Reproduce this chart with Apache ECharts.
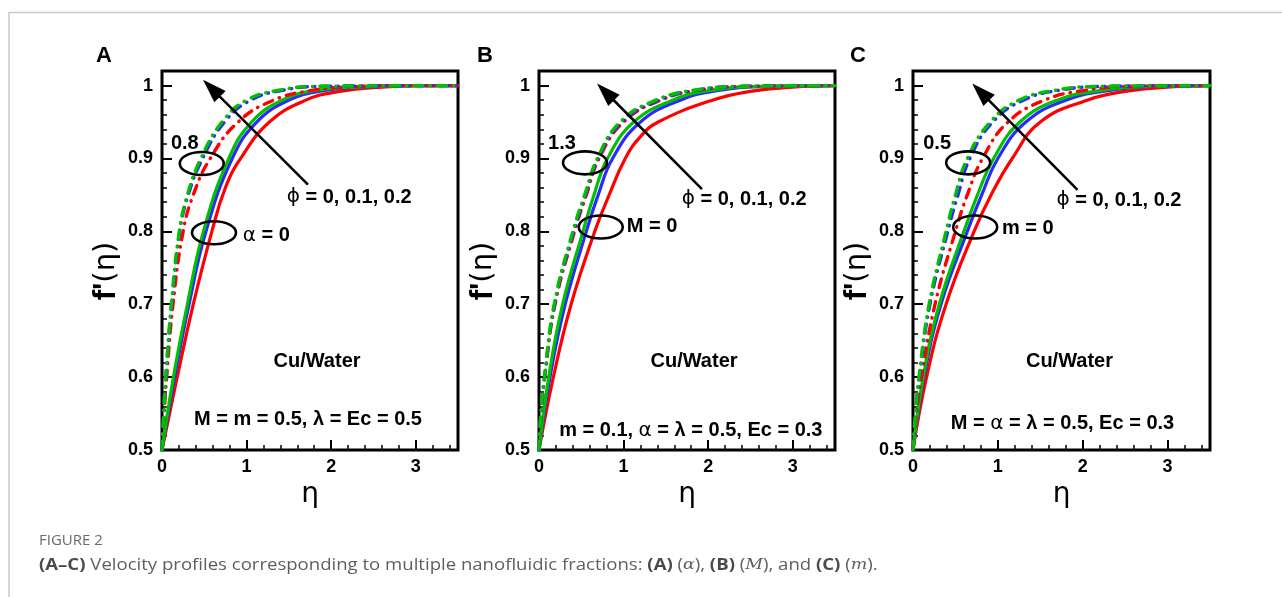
<!DOCTYPE html>
<html>
<head>
<meta charset="utf-8">
<script src="https://cdn.jsdelivr.net/npm/echarts@6/dist/echarts.min.js"></script>
<style>
  html, body { margin: 0; padding: 0; background: #fff; }
  #chart { width: 1282px; height: 597px; }
</style>
</head>
<body>
<div id="chart"></div>
<script>
// ---- velocity profiles f'(eta): [eta, f'] pairs ----
// Panel A (alpha = 0 solid, alpha = 0.8 dash-dot), phi = 0 / 0.1 / 0.2
const aRedSolid   = [[0,0.5],[0.18,0.6],[0.37,0.7],[0.59,0.8],[0.75,0.86],[0.93,0.9],[1.27,0.95],[1.7,0.98],[2.1,0.992],[2.6,0.998],[3.1,1.0],[3.5,1.0]];
const aBlueSolid  = [[0,0.5],[0.15,0.6],[0.32,0.7],[0.52,0.8],[0.83,0.9],[1.12,0.95],[1.5,0.98],[1.9,0.993],[2.4,0.998],[3.0,1.0],[3.5,1.0]];
const aGreenSolid = [[0,0.5],[0.135,0.6],[0.3,0.7],[0.49,0.8],[0.79,0.9],[1.06,0.95],[1.42,0.98],[1.8,0.993],[2.3,0.998],[3.0,1.0],[3.5,1.0]];
const aRedDash    = [[0,0.5],[0.025,0.55],[0.055,0.6],[0.13,0.7],[0.25,0.8],[0.37,0.85],[0.57,0.9],[0.9,0.95],[1.32,0.98],[1.75,0.993],[2.2,0.998],[3.0,1.0],[3.5,1.0]];
const aBlueDash   = [[0,0.5],[0.02,0.55],[0.045,0.6],[0.115,0.7],[0.21,0.8],[0.31,0.85],[0.48,0.9],[0.74,0.95],[1.05,0.98],[1.45,0.994],[1.9,0.999],[3.5,1.0]];
const aGreenDash  = [[0,0.5],[0.02,0.55],[0.044,0.6],[0.11,0.7],[0.205,0.8],[0.3,0.85],[0.46,0.9],[0.71,0.95],[1.0,0.98],[1.4,0.994],[1.85,0.999],[3.5,1.0]];

// Panel B (M = 0 solid, M = 1.3 dash-dot)
const bRedSolid   = [[0,0.5],[0.17,0.6],[0.38,0.7],[0.66,0.8],[0.83,0.85],[1.02,0.9],[1.2,0.93],[1.41,0.95],[2.05,0.98],[2.5,0.992],[3.0,0.998],[3.5,1.0]];
const bBlueSolid  = [[0,0.5],[0.13,0.6],[0.31,0.7],[0.56,0.8],[0.7,0.85],[0.87,0.9],[1.2,0.95],[1.67,0.98],[2.1,0.993],[2.7,0.999],[3.5,1.0]];
const bGreenSolid = [[0,0.5],[0.115,0.6],[0.28,0.7],[0.52,0.8],[0.65,0.85],[0.81,0.9],[1.12,0.95],[1.58,0.98],[2.0,0.993],[2.6,0.999],[3.5,1.0]];
const bRedDash    = [[0,0.5],[0.025,0.55],[0.068,0.6],[0.19,0.7],[0.42,0.8],[0.56,0.85],[0.71,0.9],[1.0,0.95],[1.44,0.98],[1.9,0.994],[2.5,0.999],[3.5,1.0]];
const bBlueDash   = [[0,0.5],[0.024,0.55],[0.066,0.6],[0.185,0.7],[0.41,0.8],[0.55,0.85],[0.7,0.9],[0.98,0.95],[1.42,0.98],[1.88,0.994],[2.5,0.999],[3.5,1.0]];
const bGreenDash  = [[0,0.5],[0.022,0.55],[0.064,0.6],[0.18,0.7],[0.4,0.8],[0.54,0.85],[0.69,0.9],[0.96,0.95],[1.38,0.98],[1.85,0.994],[2.4,0.999],[3.5,1.0]];

// Panel C (m = 0 solid, m = 0.5 dash-dot)
const cRedSolid   = [[0,0.5],[0.16,0.6],[0.39,0.7],[0.72,0.8],[0.92,0.85],[1.17,0.9],[1.5,0.95],[2.05,0.98],[2.5,0.992],[3.0,0.998],[3.5,1.0]];
const cBlueSolid  = [[0,0.5],[0.13,0.6],[0.33,0.7],[0.64,0.8],[0.81,0.85],[1.0,0.9],[1.33,0.95],[1.8,0.98],[2.3,0.993],[2.9,0.999],[3.5,1.0]];
const cGreenSolid = [[0,0.5],[0.12,0.6],[0.31,0.7],[0.6,0.8],[0.76,0.85],[0.95,0.9],[1.26,0.95],[1.7,0.98],[2.2,0.993],[2.8,0.999],[3.5,1.0]];
const cRedDash    = [[0,0.5],[0.04,0.55],[0.1,0.6],[0.26,0.7],[0.5,0.8],[0.64,0.85],[0.82,0.9],[1.12,0.95],[1.55,0.98],[2.0,0.993],[2.6,0.999],[3.5,1.0]];
const cBlueDash   = [[0,0.5],[0.03,0.55],[0.075,0.6],[0.2,0.7],[0.41,0.8],[0.53,0.85],[0.67,0.9],[0.94,0.95],[1.3,0.98],[1.75,0.994],[2.3,0.999],[3.5,1.0]];
const cGreenDash  = [[0,0.5],[0.028,0.55],[0.07,0.6],[0.19,0.7],[0.39,0.8],[0.5,0.85],[0.64,0.9],[0.91,0.95],[1.25,0.98],[1.7,0.994],[2.2,0.999],[3.5,1.0]];

// ---- tick labels and texts ----
const xTickLabels = ['0', '1', '2', '3'];
const yTickLabels = ['0.5', '0.6', '0.7', '0.8', '0.9', '1'];
const panelLetters = ['A', 'B', 'C'];
const paramLabels = ['0.8', '1.3', '0.5'];
const zeroLabels = ['{g|\u03b1}{b| = 0}', '{b|M = 0}', '{b|m = 0}'];
const phiLabel = '{g|\u03d5}{b| = 0, 0.1, 0.2}';
const fluidLabel = 'Cu/Water';
const conditionLabels = [
  '{b|M = m = 0.5, \u03bb = Ec = 0.5}',
  '{b|m = 0.1, }{g|\u03b1}{b| = \u03bb = 0.5, Ec = 0.3}',
  '{b|M = }{g|\u03b1}{b| = \u03bb = 0.5, Ec = 0.3}'
];
const xName = '\u03b7';
const yName = "{b|f'}{r|(\u03b7)}";
const captionTitle = 'FIGURE 2';
const captionBody = '{b|(A\u2013C)}{n| Velocity profiles corresponding to multiple nanofluidic fractions: }{b|(A)}{n| (}{i|\u03b1}{n|), }{b|(B)}{n| (}{i|M}{n|), and }{b|(C)}{n| (}{i|m}{n|).}';

const panels = [
  [aRedSolid, aBlueSolid, aGreenSolid, aRedDash, aBlueDash, aGreenDash],
  [bRedSolid, bBlueSolid, bGreenSolid, bRedDash, bBlueDash, bGreenDash],
  [cRedSolid, cBlueSolid, cGreenSolid, cRedDash, cBlueDash, cGreenDash]
];
const curveColors = ['#ff0000', '#2a2aff', '#00c000'];

// ---- layout ----
const gridLefts = [162, 539, 913];
const gridWidths = [296, 296, 297];
const gridTop = 71, gridHeight = 379;
const FONT = '"Liberation Sans", Arial, sans-serif';

// annotation anchors in data coordinates [eta, f']
const notes = [
  { tip: [0.485, 1.008], tail: [1.726, 0.864], ringHigh: [0.47, 0.893], ringLow: [0.615, 0.798],
    param: [0.27, 0.921], zero: [0.954, 0.794], phi: [1.474, 0.847], fluid: [1.833, 0.621], cond: [1.726, 0.5425] },
  { tip: [0.686, 1.003], tail: [1.927, 0.858], ringHigh: [0.544, 0.894], ringLow: [0.73, 0.806],
    param: [0.272, 0.921], zero: [1.037, 0.806], phi: [1.687, 0.844], fluid: [1.833, 0.621], cond: [1.795, 0.527] },
  { tip: [0.698, 1.003], tail: [1.939, 0.857], ringHigh: [0.65, 0.894], ringLow: [0.733, 0.806],
    param: [0.284, 0.921], zero: [1.049, 0.804], phi: [1.691, 0.843], fluid: [1.844, 0.621], cond: [1.762, 0.5357] }
];

const chart = echarts.init(document.getElementById('chart'), null, { renderer: 'canvas' });

const grids = [], xAxes = [], yAxes = [], series = [];
panels.forEach((curves, p) => {
  grids.push({ left: gridLefts[p], top: gridTop, width: gridWidths[p], height: gridHeight,
    show: true, borderColor: '#000', borderWidth: 3, backgroundColor: 'transparent', containLabel: false });
  // major x axis with labels
  xAxes.push({ type: 'value', gridIndex: p, min: 0, max: 3.5, interval: 1, position: 'bottom',
    axisLine: { show: false, onZero: false },
    axisTick: { show: true, inside: true, length: 10, lineStyle: { color: '#000', width: 2 } },
    splitLine: { show: false },
    axisLabel: { margin: 8, color: '#000', fontFamily: FONT, fontWeight: 'bold', fontSize: 18,
      formatter: v => (Math.abs(v - Math.round(v)) < 1e-6 && xTickLabels[Math.round(v)] !== undefined) ? xTickLabels[Math.round(v)] : '' },
    name: xName, nameLocation: 'middle', nameGap: 29,
    nameTextStyle: { color: '#000', fontFamily: '"DejaVu Sans", sans-serif', fontSize: 28 } });
  // minor x ticks
  xAxes.push({ type: 'value', gridIndex: p, min: 0, max: 3.5, interval: 0.2, position: 'bottom',
    axisLine: { show: false, onZero: false },
    axisTick: { show: true, inside: true, length: 5, lineStyle: { color: '#000', width: 1.5 } },
    splitLine: { show: false }, axisLabel: { show: false } });
  // major y axis with labels
  yAxes.push({ type: 'value', gridIndex: p, min: 0.5, max: 1.02, interval: 0.1, position: 'left',
    axisLine: { show: false, onZero: false },
    axisTick: { show: true, inside: true, length: 10, lineStyle: { color: '#000', width: 2 } },
    splitLine: { show: false },
    axisLabel: { margin: 9, color: '#000', fontFamily: FONT, fontWeight: 'bold', fontSize: 18,
      formatter: v => {
        const k = Math.round((v - 0.5) * 10);
        return (Math.abs(v - (0.5 + k * 0.1)) < 1e-6 && yTickLabels[k] !== undefined) ? yTickLabels[k] : '';
      } } });
  // minor y ticks
  yAxes.push({ type: 'value', gridIndex: p, min: 0.5, max: 1.02, interval: 0.02, position: 'left',
    axisLine: { show: false, onZero: false },
    axisTick: { show: true, inside: true, length: 5, lineStyle: { color: '#000', width: 1.5 } },
    splitLine: { show: false }, axisLabel: { show: false } });

  curves.forEach((data, i) => {
    const dashed = i >= 3;
    series.push({
      type: 'line', xAxisIndex: 2 * p, yAxisIndex: 2 * p, data: data,
      showSymbol: false, smooth: 0.45, silent: true,
      z: dashed ? 4 : 3,
      lineStyle: dashed
        ? { color: curveColors[i % 3], width: 3.4, type: [9, 7, 0.5, 7], cap: 'round' }
        : { color: curveColors[i % 3], width: 3.2, type: 'solid' }
    });
  });
});

chart.setOption({
  animation: false,
  backgroundColor: '#fff',
  grid: grids, xAxis: xAxes, yAxis: yAxes, series: series
});

// ---- annotations (arrows, rings, texts) ----
function px(p, pt) { return chart.convertToPixel({ xAxisIndex: 2 * p, yAxisIndex: 2 * p }, pt); }
function arrow(tail, tip) {
  const dx = tip[0] - tail[0], dy = tip[1] - tail[1];
  const len = Math.hypot(dx, dy), ux = dx / len, uy = dy / len;
  const headLen = 24, half = 8;
  const bx = tip[0] - ux * headLen, by = tip[1] - uy * headLen;
  return [
    { type: 'line', z: 100, shape: { x1: tail[0], y1: tail[1], x2: bx + ux * 2, y2: by + uy * 2 },
      style: { stroke: '#000', lineWidth: 2.5 } },
    { type: 'polygon', z: 100, shape: { points: [[tip[0], tip[1]], [bx - uy * half, by + ux * half], [bx + uy * half, by - ux * half]] },
      style: { fill: '#000' } }
  ];
}
function ring(c) {
  return { type: 'ellipse', z: 100, shape: { cx: c[0], cy: c[1], rx: 22, ry: 11.5 },
    style: { fill: 'none', stroke: '#000', lineWidth: 2.6 } };
}
const boldRich = {
  b: { fontFamily: FONT, fontWeight: 'bold', fontSize: 20, fill: '#000', color: '#000' },
  g: { fontFamily: '"DejaVu Sans", sans-serif', fontSize: 20, fill: '#000', color: '#000' }
};
function label(pos, text, align) {
  return { type: 'text', z: 100, x: pos[0], y: pos[1],
    style: { text: text, align: align, verticalAlign: 'middle', rich: boldRich,
      font: 'bold 20px ' + FONT, fill: '#000' } };
}

const graphics = [];
notes.forEach((n, p) => {
  graphics.push(...arrow(px(p, n.tail), px(p, n.tip)));
  graphics.push(ring(px(p, n.ringHigh)), ring(px(p, n.ringLow)));
  graphics.push(label(px(p, n.param), '{b|' + paramLabels[p] + '}', 'center'));
  graphics.push(label(px(p, n.zero), zeroLabels[p], 'left'));
  graphics.push(label(px(p, n.phi), phiLabel, 'left'));
  graphics.push(label(px(p, n.fluid), '{b|' + fluidLabel + '}', 'center'));
  graphics.push(label(px(p, n.cond), conditionLabels[p], 'center'));
});

// y-axis titles, rotated, beside each panel
const yNameX = [106, 483, 857];
yNameX.forEach(x => {
  graphics.push({ type: 'text', z: 100, x: x, y: 271, rotation: Math.PI / 2,
    style: { text: yName, align: 'center', verticalAlign: 'middle', rich: {
      b: { fontFamily: FONT, fontWeight: 'bold', fontSize: 31, fill: '#000', color: '#000' },
      r: { fontFamily: '"DejaVu Sans", sans-serif', fontSize: 29, fill: '#000', color: '#000' } } } });
});

// panel letters
const letterX = [104, 485, 858];
panelLetters.forEach((L, p) => {
  graphics.push({ type: 'text', z: 100, x: letterX[p], y: 56,
    style: { text: L, font: 'bold 22px ' + FONT, fill: '#000', align: 'center', verticalAlign: 'middle' } });
});

// frame lines and caption
graphics.push({ type: 'line', shape: { x1: 9, y1: 12.5, x2: 1282, y2: 12.5 }, style: { stroke: '#c8c8c8', lineWidth: 1.5 } });
graphics.push({ type: 'line', shape: { x1: 9, y1: 12, x2: 9, y2: 597 }, style: { stroke: '#c8c8c8', lineWidth: 1.5 } });
graphics.push({ type: 'text', x: 39, y: 541,
  style: { text: captionTitle, font: '15px "Open Sans", sans-serif', fill: '#6a6a6a', verticalAlign: 'middle' } });
graphics.push({ type: 'text', x: 39, y: 565, scaleX: 1.16,
  style: { text: captionBody, verticalAlign: 'middle', rich: {
    b: { fontFamily: '"Open Sans", sans-serif', fontWeight: 'bold', fontSize: 16, fill: '#4a4a4a', color: '#4a4a4a' },
    n: { fontFamily: '"Open Sans", sans-serif', fontSize: 16, fill: '#5e5e5e', color: '#5e5e5e' },
    i: { fontFamily: '"DejaVu Serif", serif', fontStyle: 'italic', fontSize: 15, fill: '#5e5e5e', color: '#5e5e5e' } } } });

chart.setOption({ graphic: { elements: graphics } });
</script>
</body>
</html>
